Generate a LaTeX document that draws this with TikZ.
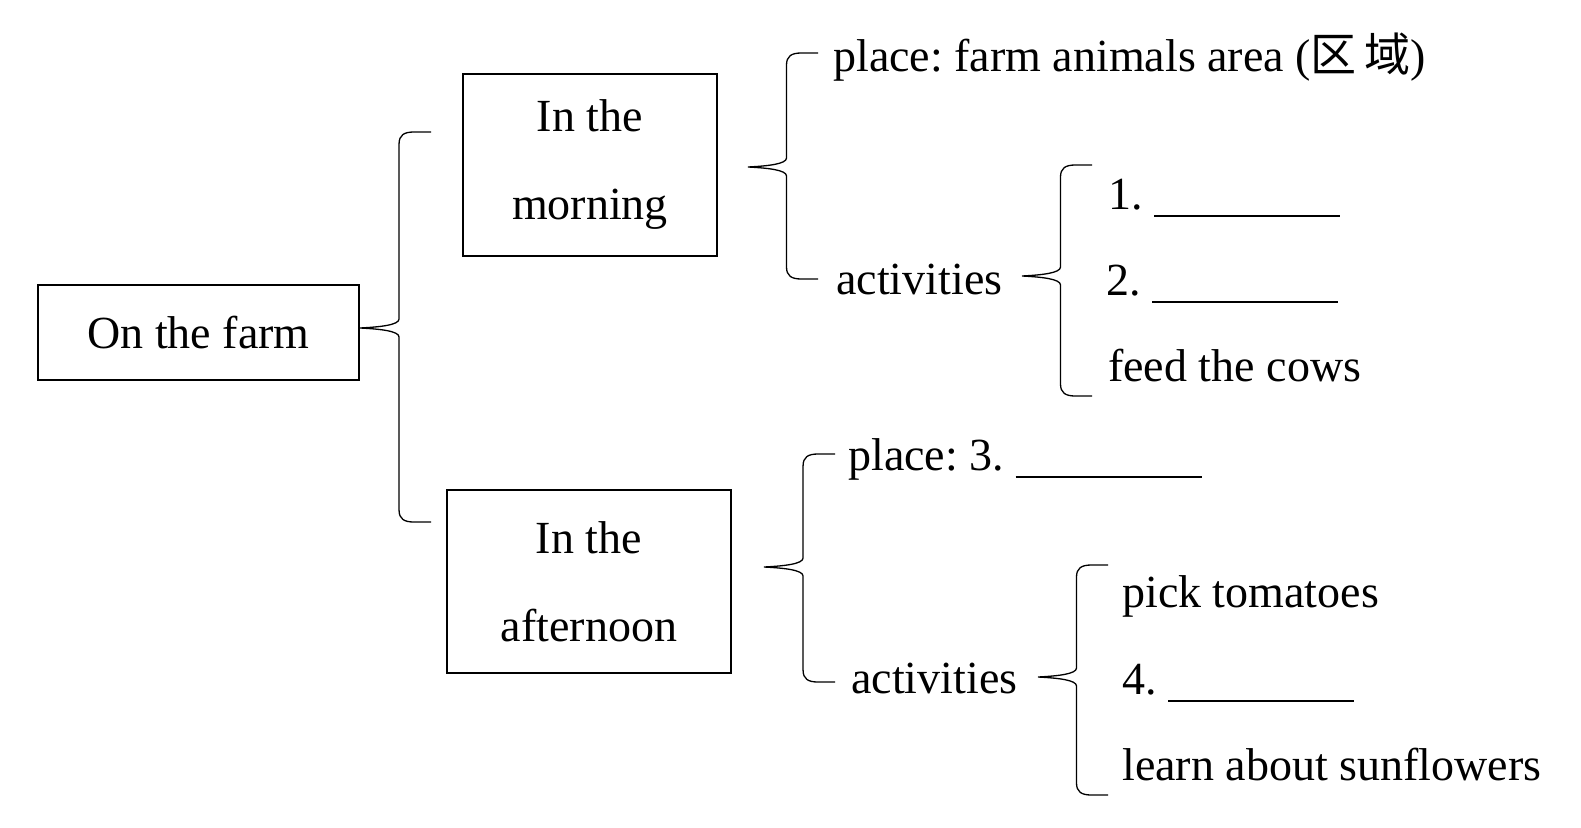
\documentclass[tikz,border=0pt]{standalone}
\usepackage{fontspec}
\setmainfont{Liberation Serif}
\newfontfamily\cjk{Noto Sans CJK SC}
\usetikzlibrary{calc}
\frenchspacing

\tikzset{
	box/.style={draw, line width=1.3pt, align=center, inner sep=0pt},
	entry/.style={anchor=base west, inner sep=0pt},
	bracket/.style={line width=1.3pt, line join=round}
}
\newcommand{\farmblank}{\rule[-8pt]{186pt}{1.8pt}}
% curly bracket: tip, top end, bottom end
\newcommand{\farmbrace}[3]{%
	\draw[bracket] let \p1=(#1), \p2=(#2), \p3=(#3), \n1={\x1+0.55*(\x2-\x1)} in
	(\p1) .. controls (\x1+20pt,\y1+1pt) and (\n1,\y1+3pt) .. (\n1,\y1+9pt)
	-- (\n1,\y2-12pt) .. controls (\n1,\y2-3pt) and (\n1+5pt,\y2) .. (\n1+15pt,\y2) -- (\p2)
	(\p1) .. controls (\x1+20pt,\y1-1pt) and (\n1,\y1-3pt) .. (\n1,\y1-9pt)
	-- (\n1,\y3+12pt) .. controls (\n1,\y3+3pt) and (\n1+5pt,\y3) .. (\n1+15pt,\y3) -- (\p3);
}

\begin{document}
\begin{tikzpicture}[x=1pt, y=-1pt, every node/.style={font=\fontsize{46}{88}\selectfont}]
		\useasboundingbox (0,0) rectangle (1581,827);
		
		% draw boxes
		\node[box, minimum width=321pt, minimum height=95pt] (farm) at (198.5,332.5) {On the farm};
		\node[box, minimum width=254pt, minimum height=182pt] (morning) at (590,165) {In the\\morning};
		\node[box, minimum width=284pt, minimum height=183pt] (afternoon) at (589,581.5) {In the\\afternoon};
		
		% draw entries
		\node[entry] (place1) at (833,71) {place: farm animals area ({\cjk 区\,域})};
		\node[entry] (act1) at (836,294) {activities};
		\node[entry] (m1) at (1108,209) {1. \farmblank};
		\node[entry] (m2) at (1106,295) {2. \farmblank};
		\node[entry] (m3) at (1108,381) {feed the cows};
		\node[entry] (place2) at (848,470) {place: 3. \farmblank};
		\node[entry] (act2) at (851,693) {activities};
		\node[entry] (a1) at (1122,607) {pick tomatoes};
		\node[entry] (a2) at (1122,694) {4. \farmblank};
		\node[entry] (a3) at (1122,780) {learn about sunflowers};
		
		% bracket ends
		\coordinate (t0) at (360,328);  \coordinate (u0) at (431,132);  \coordinate (d0) at (431,522);
		\coordinate (t1) at (748,167);  \coordinate (u1) at (818,53);   \coordinate (d1) at (818,279);
		\coordinate (t2) at (1022,276); \coordinate (u2) at (1092,165); \coordinate (d2) at (1092,396);
		\coordinate (t3) at (764,567);  \coordinate (u3) at (835,454);  \coordinate (d3) at (835,682);
		\coordinate (t4) at (1038,677); \coordinate (u4) at (1108,565); \coordinate (d4) at (1108,795);
		
		% draw brackets
		\farmbrace{t0}{u0}{d0}
		\farmbrace{t1}{u1}{d1}
		\farmbrace{t2}{u2}{d2}
		\farmbrace{t3}{u3}{d3}
		\farmbrace{t4}{u4}{d4}
		
\end{tikzpicture}
\end{document}
